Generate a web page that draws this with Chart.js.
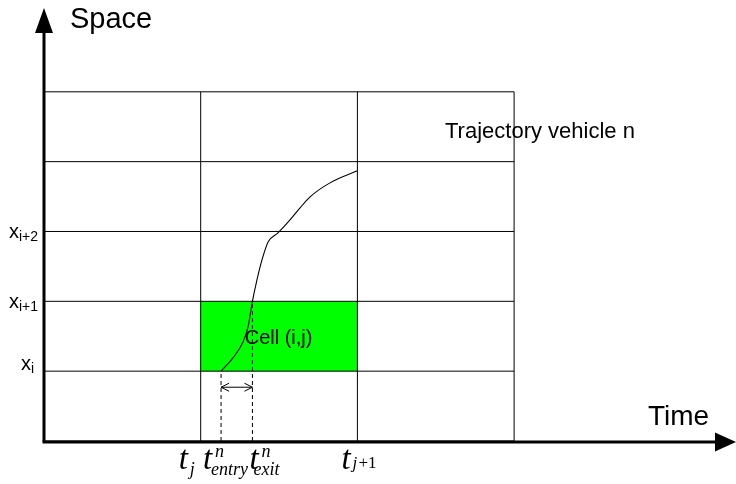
<!DOCTYPE html>
<html>
<head>
<meta charset="utf-8">
<script src="https://cdn.jsdelivr.net/npm/chart.js@4"></script>
<style>
  html, body { margin: 0; padding: 0; background: #ffffff; }
  #wrap { width: 736px; height: 484px; }
</style>
</head>
<body>
<div id="wrap"><canvas id="c" width="736" height="484"></canvas></div>
<script>
// ---- data ----
const timeEdges = [0, 1, 2, 3];          // cell boundaries in time (t_{j-1}, t_j, t_{j+1}, ...)
const spaceEdges = [0, 1, 2, 3, 4, 5];   // cell boundaries in space (x_{i-1}, x_i, x_{i+1}, ...)
const cellTime = [1, 2];                 // highlighted cell (i,j) time range
const cellSpace = [1, 2];                // highlighted cell (i,j) space range
const trajTime  = [1.13, 1.206, 1.27, 1.302, 1.33, 1.359, 1.391, 1.43, 1.493, 1.57, 1.634, 1.698, 1.825, 2.0];
const trajSpace = [1.0, 1.19, 1.418, 1.633, 2.0, 2.307, 2.593, 2.851, 2.98, 3.166, 3.338, 3.496, 3.696, 3.868];
const entryTime = 1.13;
const exitTime = 1.33;
const arrowSpace = 0.77;
const axisMaxTime = 4.416;
const axisMaxSpace = 6.2;
const spaceLabels = [{s: 1, base: 'x', sub: 'i'}, {s: 2, base: 'x', sub: 'i+1'}, {s: 3, base: 'x', sub: 'i+2'}];

// ---- datasets ----
const datasets = [];
datasets.push({
  label: 'cell', order: 10,
  data: [{x: cellTime[0], y: cellSpace[1]}, {x: cellTime[1], y: cellSpace[1]}],
  showLine: true, borderWidth: 0, pointRadius: 0,
  backgroundColor: '#00ff00', fill: {value: cellSpace[0]}
});
spaceEdges.forEach(s => {
  datasets.push({
    label: 'h' + s, order: 5,
    data: [{x: timeEdges[0], y: s}, {x: timeEdges[timeEdges.length - 1], y: s}],
    showLine: true, borderColor: '#000', borderWidth: 1, pointRadius: 0, fill: false
  });
});
timeEdges.slice(1).forEach(t => {
  datasets.push({
    label: 'v' + t, order: 5,
    data: [{x: t, y: spaceEdges[0]}, {x: t, y: spaceEdges[spaceEdges.length - 1]}],
    showLine: true, borderColor: '#000', borderWidth: 1, pointRadius: 0, fill: false
  });
});
datasets.push({
  label: 'entry', order: 3,
  data: [{x: entryTime, y: 0}, {x: entryTime, y: cellSpace[0]}],
  showLine: true, borderColor: '#000', borderWidth: 1, borderDash: [4, 3], pointRadius: 0, fill: false
});
datasets.push({
  label: 'exit', order: 3,
  data: [{x: exitTime, y: 0}, {x: exitTime, y: cellSpace[1]}],
  showLine: true, borderColor: '#000', borderWidth: 1, borderDash: [4, 3], pointRadius: 0, fill: false
});
datasets.push({
  label: 'dt', order: 3,
  data: [{x: entryTime, y: arrowSpace}, {x: exitTime, y: arrowSpace}],
  showLine: true, borderColor: '#000', borderWidth: 1, pointRadius: 0, fill: false
});
datasets.push({
  label: 'trajectory', order: 1,
  data: trajTime.map((t, k) => ({x: t, y: trajSpace[k]})),
  showLine: true, borderColor: '#000', borderWidth: 1.1, pointRadius: 0, fill: false,
  cubicInterpolationMode: 'monotone'
});

const SANS = '"Liberation Sans", Arial, sans-serif';
const SERIF = '"Liberation Serif", "Times New Roman", serif';

const overlay = {
  id: 'overlay',
  afterDatasetsDraw(chart) {
    const ctx = chart.ctx;
    const xs = chart.scales.x, ys = chart.scales.y;
    const x0 = xs.getPixelForValue(0), y0 = ys.getPixelForValue(0);
    const xEnd = xs.getPixelForValue(axisMaxTime), yEnd = ys.getPixelForValue(axisMaxSpace);
    ctx.save();
    // axes
    ctx.strokeStyle = '#000'; ctx.fillStyle = '#000'; ctx.lineWidth = 3;
    ctx.beginPath(); ctx.moveTo(x0, y0 + 1); ctx.lineTo(x0, yEnd + 20); ctx.stroke();
    ctx.beginPath(); ctx.moveTo(x0 - 1.5, y0 + 1); ctx.lineTo(xEnd - 18, y0 + 1); ctx.stroke();
    ctx.beginPath(); ctx.moveTo(x0, yEnd); ctx.lineTo(x0 - 9, yEnd + 25); ctx.lineTo(x0 + 9, yEnd + 25); ctx.closePath(); ctx.fill();
    ctx.beginPath(); ctx.moveTo(xEnd, y0 + 1); ctx.lineTo(xEnd - 21, y0 + 1 - 9.5); ctx.lineTo(xEnd - 21, y0 + 1 + 9.5); ctx.closePath(); ctx.fill();
    // double arrow heads
    const ay = ys.getPixelForValue(arrowSpace);
    const ax1 = xs.getPixelForValue(entryTime), ax2 = xs.getPixelForValue(exitTime);
    ctx.lineWidth = 1;
    ctx.beginPath();
    ctx.moveTo(ax1 + 8, ay - 4); ctx.lineTo(ax1, ay); ctx.lineTo(ax1 + 8, ay + 4);
    ctx.moveTo(ax2 - 8, ay - 4); ctx.lineTo(ax2, ay); ctx.lineTo(ax2 - 8, ay + 4);
    ctx.stroke();
    // texts
    ctx.textBaseline = 'alphabetic'; ctx.textAlign = 'left';
    ctx.font = '29px ' + SANS;
    ctx.fillText('Space', 70, 28);
    ctx.font = '28px ' + SANS;
    ctx.fillText('Time', 648, 425);
    ctx.font = '22px ' + SANS;
    ctx.fillText('Trajectory vehicle n', 445, 138);
    ctx.font = '20px ' + SANS;
    ctx.fillText('Cell (i,j)', xs.getPixelForValue(cellTime[0]) + 44, ys.getPixelForValue(cellSpace[0]) - 27);
    // space labels
    spaceLabels.forEach(l => {
      const py = ys.getPixelForValue(l.s);
      ctx.font = '14px ' + SANS;
      const subW = ctx.measureText(l.sub).width;
      ctx.font = '20px ' + SANS;
      const bW = ctx.measureText(l.base).width;
      const right = l.sub.length > 1 ? 38 : 34;
      const off = l.sub.length > 1 ? 7 : -1;
      ctx.fillText(l.base, right - subW - bW, py + off);
      ctx.font = '14px ' + SANS;
      ctx.fillText(l.sub, right - subW, py + off + 3);
    });
    // time labels
    const tj = xs.getPixelForValue(timeEdges[1]);
    const tj1 = xs.getPixelForValue(timeEdges[2]);
    const te = xs.getPixelForValue(entryTime), tx = xs.getPixelForValue(exitTime);
    function tLabel(left, sub, sup, subDx, supDx) {
      ctx.font = 'italic 33px ' + SERIF;
      ctx.fillText('t', left, 469);
      if (sup) { ctx.font = 'italic 18px ' + SERIF; ctx.fillText(sup, left + supDx, 457); }
      ctx.font = 'italic 18px ' + SERIF;
      ctx.fillText(sub, left + subDx, 475);
    }
    tLabel(tj - 22, 'j', null, 11, 0);
    tLabel(te - 18, 'entry', 'n', 8, 12);
    tLabel(tx - 3, 'exit', 'n', 4, 12);
    ctx.font = 'italic 33px ' + SERIF;
    ctx.fillText('t', tj1 - 16, 469);
    ctx.font = 'italic 17px ' + SERIF;
    ctx.fillText('j', tj1 - 5, 468);
    ctx.font = '17px ' + SERIF;
    ctx.fillText('+1', tj1 + 1, 468);
    ctx.restore();
  }
};

new Chart(document.getElementById('c'), {
  type: 'scatter',
  data: { datasets },
  options: {
    responsive: false,
    animation: false,
    layout: { padding: { left: 44, right: 0, top: 8, bottom: 43 } },
    plugins: { legend: { display: false }, tooltip: { enabled: false } },
    scales: {
      x: { type: 'linear', min: 0, max: axisMaxTime, display: false },
      y: { type: 'linear', min: 0, max: axisMaxSpace, display: false }
    }
  },
  plugins: [overlay]
});
</script>
</body>
</html>
